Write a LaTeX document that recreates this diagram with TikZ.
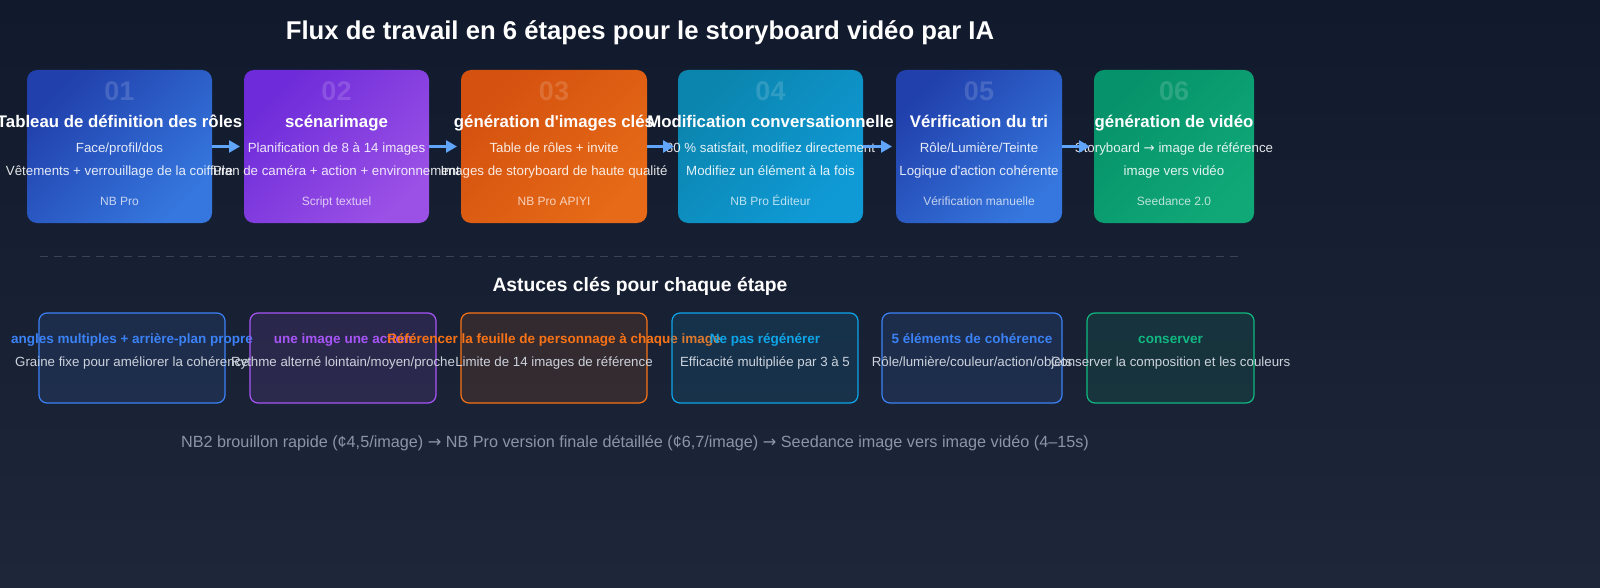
\documentclass[tikz,border=0pt]{standalone}
\usepackage{fontspec}
\setmainfont{Liberation Sans}
\newfontfamily\arrowfont{DejaVu Sans}
\usepackage{xcolor}
\usepackage{tikz}
\usetikzlibrary{arrows.meta, positioning, calc}

\definecolor{bg_top}{HTML}{111A2D}
\definecolor{bg_bot}{HTML}{1E2739}
\definecolor{flow_blue}{HTML}{60A5FA}
\definecolor{sep_gray}{HTML}{3A4457}
\definecolor{tip_text}{HTML}{CDD3DD}
\definecolor{note_gray}{HTML}{8B95A7}
\definecolor{blue_a}{HTML}{2140AC}
\definecolor{blue_b}{HTML}{3577DE}
\definecolor{purple_a}{HTML}{6D2BD9}
\definecolor{purple_b}{HTML}{9B51E6}
\definecolor{orange_a}{HTML}{D4510F}
\definecolor{orange_b}{HTML}{E66A17}
\definecolor{teal_a}{HTML}{0B85AE}
\definecolor{teal_b}{HTML}{0F9AD6}
\definecolor{green_a}{HTML}{06926A}
\definecolor{green_b}{HTML}{10A877}
\definecolor{acc_blue}{HTML}{3B82F6}
\definecolor{acc_purple}{HTML}{A855F7}
\definecolor{acc_orange}{HTML}{F97316}
\definecolor{acc_sky}{HTML}{0EA5E9}
\definecolor{acc_green}{HTML}{10B981}

\newcommand{\rarr}{{\arrowfont →}}

\begin{document}
\begin{tikzpicture}[x=1pt, y=-1pt,
        every node/.style={inner sep=0pt, outer sep=0pt},
        card/.style 2 args={rounded corners=10pt, top color=#1, bottom color=#2, shading angle=45, minimum height=153pt},
        tipcard/.style={rounded corners=8pt, draw=#1, line width=1.2pt, fill=#1, fill opacity=0.12, draw opacity=1, minimum height=90pt},
        num/.style={anchor=base, font=\fontsize{27}{27}\selectfont\bfseries, text=white, text opacity=0.15},
        cardtitle/.style={anchor=base, font=\fontsize{16.8}{18}\selectfont\bfseries, text=white},
        cardline/.style={anchor=base, font=\fontsize{13.3}{15}\selectfont, text=white, text opacity=0.88},
        cardfoot/.style={anchor=base, font=\fontsize{12}{14}\selectfont, text=white, text opacity=0.72},
        tiptitle/.style={anchor=base, font=\fontsize{13.5}{15}\selectfont\bfseries, text=#1},
        tipline/.style={anchor=base, font=\fontsize{13.3}{15}\selectfont, text=tip_text},
        flow/.style={draw=flow_blue, line width=2.5pt, -{Triangle[length=11pt,width=12pt]}, shorten >=4pt},
    ]
    % background
    \fill[top color=bg_top, bottom color=bg_bot] (0,0) rectangle (1600,588);
    \useasboundingbox (0,0) rectangle (1600,588);

    \node[anchor=base, font=\fontsize{25.7}{28}\selectfont\bfseries, text=white] (title) at (640,40) {Flux de travail en 6 étapes pour le storyboard vidéo par IA};

    % six steps
    \node[card={blue_a}{blue_b}, minimum width=185pt] (st1) at (119.5,146.5) {};
    \node[num]       (num1) at (119.5,101) {01};
    \node[cardtitle] (ttl1) at (119.5,128) {Tableau de définition des rôles};
    \node[cardline]  (lna1) at (119.5,152.5) {Face/profil/dos};
    \node[cardline]  (lnb1) at (119.5,175.5) {Vêtements + verrouillage de la coiffure};
    \node[cardfoot]  (ft1)  at (119.5,205.5) {NB Pro};

    \node[card={purple_a}{purple_b}, minimum width=185pt] (st2) at (336.5,146.5) {};
    \node[num]       (num2) at (336.5,101) {02};
    \node[cardtitle] (ttl2) at (336.5,128) {scénarimage};
    \node[cardline]  (lna2) at (336.5,152.5) {Planification de 8 à 14 images};
    \node[cardline]  (lnb2) at (336.5,175.5) {Plan de caméra + action + environnement};
    \node[cardfoot]  (ft2)  at (336.5,205.5) {Script textuel};

    \node[card={orange_a}{orange_b}, minimum width=186pt] (st3) at (554,146.5) {};
    \node[num]       (num3) at (554,101) {03};
    \node[cardtitle] (ttl3) at (554,128) {génération d\textquotesingle images clés};
    \node[cardline]  (lna3) at (554,152.5) {Table de rôles + invite};
    \node[cardline]  (lnb3) at (554,175.5) {Images de storyboard de haute qualité};
    \node[cardfoot]  (ft3)  at (554,205.5) {NB Pro APIYI};

    \node[card={teal_a}{teal_b}, minimum width=185pt] (st4) at (770.5,146.5) {};
    \node[num]       (num4) at (770.5,101) {04};
    \node[cardtitle] (ttl4) at (770.5,128) {Modification conversationnelle};
    \node[cardline]  (lna4) at (770.5,152.5) {80 \% satisfait, modifiez directement};
    \node[cardline]  (lnb4) at (770.5,175.5) {Modifiez un élément à la fois};
    \node[cardfoot]  (ft4)  at (770.5,205.5) {NB Pro Éditeur};

    \node[card={blue_a}{blue_b}, minimum width=166pt] (st5) at (979,146.5) {};
    \node[num]       (num5) at (979,101) {05};
    \node[cardtitle] (ttl5) at (979,128) {Vérification du tri};
    \node[cardline]  (lna5) at (979,152.5) {Rôle/Lumière/Teinte};
    \node[cardline]  (lnb5) at (979,175.5) {Logique d\textquotesingle action cohérente};
    \node[cardfoot]  (ft5)  at (979,205.5) {Vérification manuelle};

    \node[card={green_a}{green_b}, minimum width=160pt] (st6) at (1174,146.5) {};
    \node[num]       (num6) at (1174,101) {06};
    \node[cardtitle] (ttl6) at (1174,128) {génération de vidéo};
    \node[cardline]  (lna6) at (1174,152.5) {Storyboard \rarr{} image de référence};
    \node[cardline]  (lnb6) at (1174,175.5) {image vers vidéo};
    \node[cardfoot]  (ft6)  at (1174,205.5) {Seedance 2.0};

    \draw[flow] (st1) -- (st2);
    \draw[flow] (st2) -- (st3);
    \draw[flow] (st3) -- (st4);
    \draw[flow] (st4) -- (st5);
    \draw[flow] (st5) -- (st6);

    % separator
    \coordinate (sepL) at (40,256);
    \coordinate (sepR) at (1240,256);
    \draw[sep_gray, line width=1pt, dash pattern=on 8pt off 6pt] (sepL) -- (sepR);

    \node[anchor=base, font=\fontsize{19.3}{22}\selectfont\bfseries, text=white] (tipshead) at (640,291) {Astuces clés pour chaque étape};

    % tips
    \node[tipcard=acc_blue, minimum width=186pt] (tp1) at (132,358) {};
    \node[tiptitle=acc_blue] (tpt1) at (132,343) {angles multiples + arrière-plan propre};
    \node[tipline]           (tps1) at (132,366) {Graine fixe pour améliorer la cohérence};

    \node[tipcard=acc_purple, minimum width=186pt] (tp2) at (343,358) {};
    \node[tiptitle=acc_purple] (tpt2) at (343,343) {une image une action};
    \node[tipline]             (tps2) at (343,366) {Rythme alterné lointain/moyen/proche};

    \node[tipcard=acc_orange, minimum width=186pt] (tp3) at (554,358) {};
    \node[tiptitle=acc_orange] (tpt3) at (554,343) {Référencer la feuille de personnage à chaque image};
    \node[tipline]             (tps3) at (554,366) {Limite de 14 images de référence};

    \node[tipcard=acc_sky, minimum width=186pt] (tp4) at (765,358) {};
    \node[tiptitle=acc_sky] (tpt4) at (765,343) {Ne pas régénérer};
    \node[tipline]          (tps4) at (765,366) {Efficacité multipliée par 3 à 5};

    \node[tipcard=acc_blue, minimum width=180pt] (tp5) at (972,358) {};
    \node[tiptitle=acc_blue] (tpt5) at (972,343) {5 éléments de cohérence};
    \node[tipline]           (tps5) at (972,366) {Rôle/lumière/couleur/action/objets};

    \node[tipcard=acc_green, minimum width=167pt] (tp6) at (1170.5,358) {};
    \node[tiptitle=acc_green] (tpt6) at (1170.5,343) {conserver};
    \node[tipline]            (tps6) at (1170.5,366) {Conserver la composition et les couleurs};

    \node[anchor=base, font=\fontsize{16.2}{18}\selectfont, text=note_gray] (pricing) at (635,447) {NB2 brouillon rapide (¢4,5/image) \rarr{} NB Pro version finale détaillée (¢6,7/image) \rarr{} Seedance image vers image vidéo (4–15s)};
\end{tikzpicture}
\end{document}
